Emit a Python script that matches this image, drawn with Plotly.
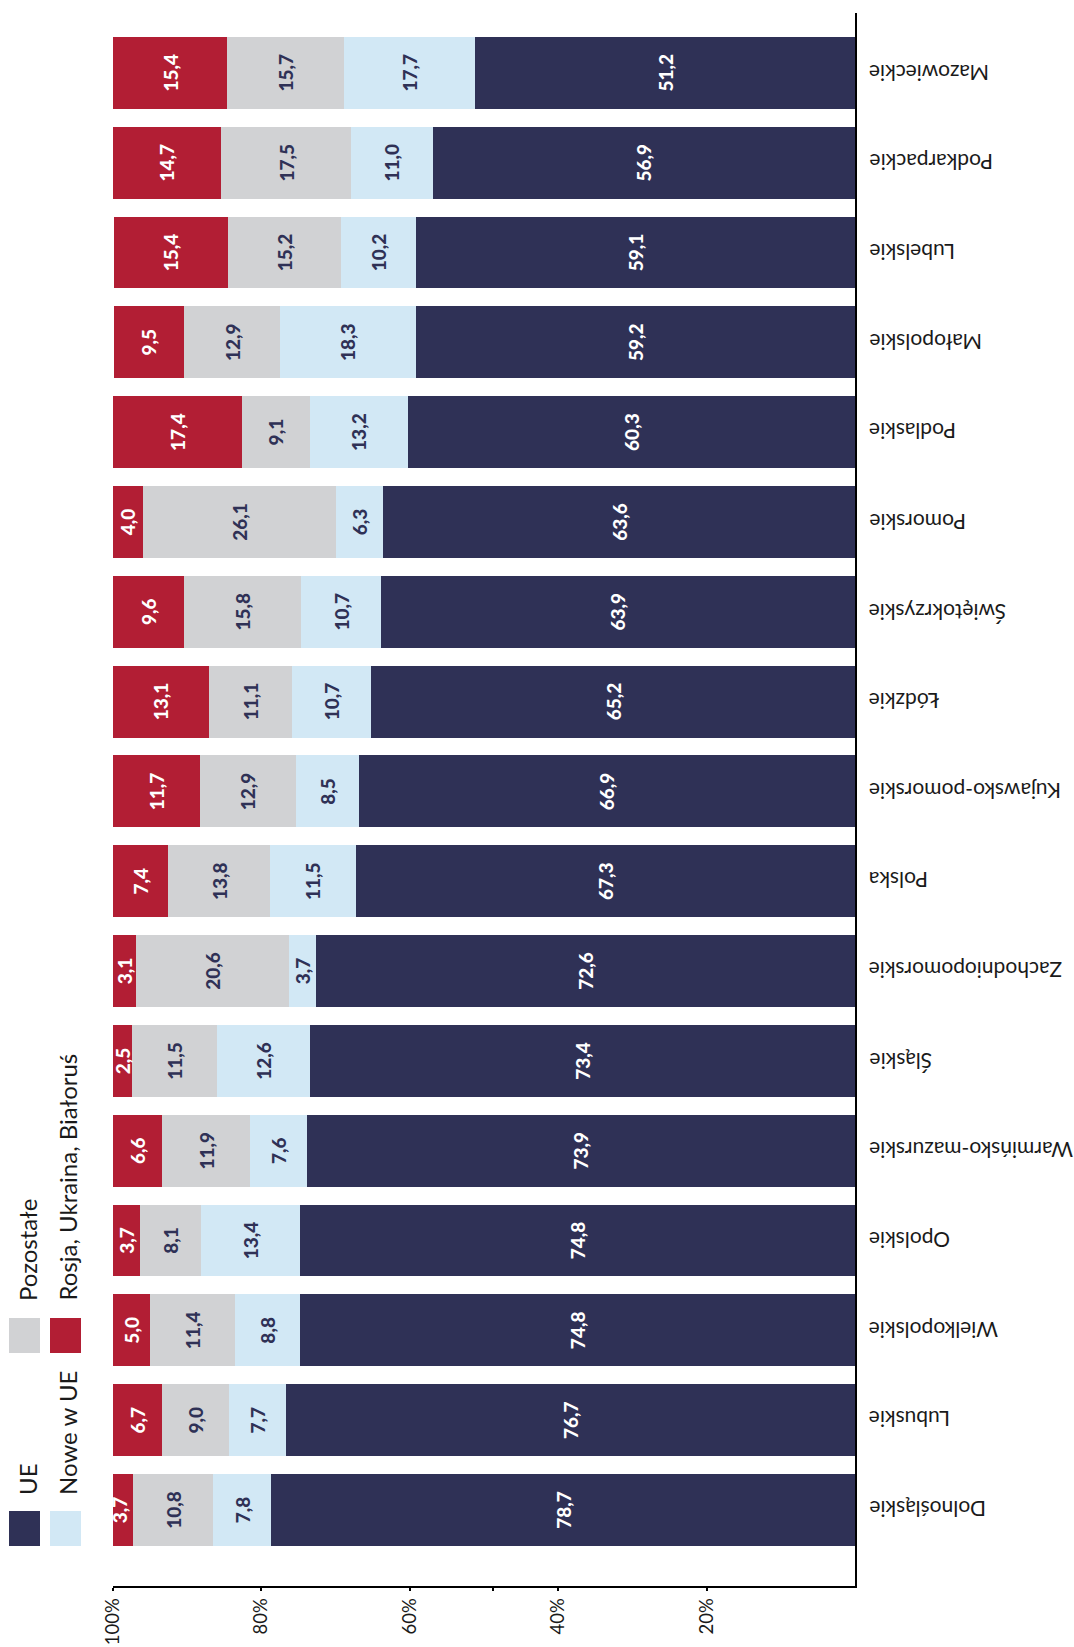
import plotly.graph_objects as go

# Voivodeships, top to bottom
regions = [
    "Mazowieckie", "Podkarpackie", "Lubelskie", "Małopolskie", "Podlaskie",
    "Pomorskie", "Świętokrzyskie", "Łódzkie", "Kujawsko-pomorskie", "Polska",
    "Zachodniopomorskie", "Śląskie", "Warmińsko-mazurskie", "Opolskie",
    "Wielkopolskie", "Lubuskie", "Dolnośląskie",
]

# Shares (%) by group of countries
ue = [51.2, 56.9, 59.1, 59.2, 60.3, 63.6, 63.9, 65.2, 66.9, 67.3,
      72.6, 73.4, 73.9, 74.8, 74.8, 76.7, 78.7]
nowe_w_ue = [17.7, 11.0, 10.2, 18.3, 13.2, 6.3, 10.7, 10.7, 8.5, 11.5,
             3.7, 12.6, 7.6, 13.4, 8.8, 7.7, 7.8]
pozostale = [15.7, 17.5, 15.2, 12.9, 9.1, 26.1, 15.8, 11.1, 12.9, 13.8,
             20.6, 11.5, 11.9, 8.1, 11.4, 9.0, 10.8]
rosja_ukraina_bialorus = [15.4, 14.7, 15.4, 9.5, 17.4, 4.0, 9.6, 13.1, 11.7, 7.4,
                          3.1, 2.5, 6.6, 3.7, 5.0, 6.7, 3.7]

series_names = ["UE", "Nowe w UE", "Pozostałe", "Rosja, Ukraina, Białoruś"]
series_values = [ue, nowe_w_ue, pozostale, rosja_ukraina_bialorus]

tick_values = [20, 40, 48.8, 60, 80, 100]
tick_labels = ["20%", "40%", "", "60%", "80%", "100%"]

NAVY = "#2f3156"
LIGHT_BLUE = "#d2e8f5"
GRAY = "#d1d2d4"
RED = "#b21e34"
colors = [NAVY, LIGHT_BLUE, GRAY, RED]
label_colors = ["white", NAVY, NAVY, "white"]

FONT = "Lato, 'Open Sans', sans-serif"

W, H = 1074, 1647
L, R, T, B = 113, 219, 13, 61
PW, PH = W - L - R, H - T - B


def px(x):
    return (x - L) / PW


def py(y):
    return (H - B - y) / PH


fig = go.Figure()
for name, vals, col, tcol in zip(series_names, series_values, colors, label_colors):
    fig.add_trace(go.Bar(
        y=regions, x=vals, name=name, orientation="h",
        marker=dict(color=col, line=dict(width=0)),
        text=[f"{v:.1f}".replace(".", ",") for v in vals],
        textposition="inside", insidetextanchor="middle",
        textangle=-90, constraintext="none",
        textfont=dict(family=FONT, size=19, color=tcol, weight=900),
        hoverinfo="skip", showlegend=False,
    ))

# Region names beside the right axis
annotations = []
for r in regions:
    annotations.append(dict(
        x=px(867), xref="paper", y=r, yref="y", text=r, showarrow=False,
        textangle=180, xanchor="left", yanchor="middle",
        font=dict(family=FONT, size=21, color="#1a1a1a"),
    ))

# Legend: swatches and rotated labels
shapes = []
legend_items = [
    (9, 1511, NAVY, "UE", 27, 1497),
    (50, 1511, LIGHT_BLUE, "Nowe w UE", 67, 1497),
    (9, 1318, GRAY, "Pozostałe", 27, 1303),
    (50, 1318, RED, "Rosja, Ukraina, Białoruś", 67, 1303),
]
for sx, sy, col, label, tx, ty in legend_items:
    shapes.append(dict(
        type="rect", xref="paper", yref="paper",
        x0=px(sx), x1=px(sx + 31), y0=py(sy + 35), y1=py(sy),
        fillcolor=col, line=dict(width=0),
    ))
    annotations.append(dict(
        x=px(tx), y=py(ty), xref="paper", yref="paper", text=label,
        showarrow=False, textangle=-90, xanchor="center", yanchor="bottom",
        font=dict(family=FONT, size=24, color="#1a1a1a"),
    ))

fig.update_layout(
    width=W, height=H, barmode="stack", bargap=0.2,
    margin=dict(l=L, r=R, t=T, b=B, pad=0),
    paper_bgcolor="white", plot_bgcolor="white",
    uniformtext=dict(minsize=19, mode="show"),
    xaxis=dict(
        range=[100, 0], tickvals=tick_values, ticktext=tick_labels,
        tickangle=-90, ticks="outside", ticklen=3, tickcolor="black",
        tickwidth=1.5,
        tickfont=dict(family=FONT, size=18.5, color="#1a1a1a"),
        showline=True, linecolor="black", linewidth=1.5,
        showgrid=False, zeroline=False, automargin=False,
    ),
    yaxis=dict(
        categoryorder="array", categoryarray=regions,
        range=[16.846, -0.666], side="right",
        showticklabels=False, ticks="",
        showline=True, linecolor="black", linewidth=1.5,
        showgrid=False, zeroline=False, automargin=False,
    ),
    shapes=shapes, annotations=annotations,
)

fig.write_html("out.html")
